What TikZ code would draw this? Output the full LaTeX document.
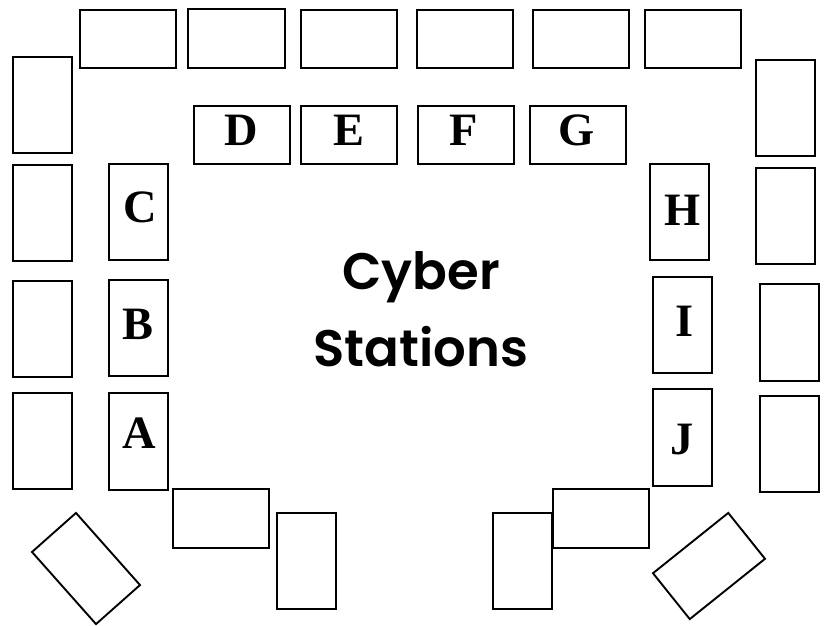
\documentclass[tikz,border=0pt]{standalone}
\usepackage{fontspec}
\setmainfont{Liberation Serif}
\newfontfamily\cyberfont{Poppins SemiBold}
\tikzset{
	wide/.style={draw, line width=1.35pt, inner sep=0pt, outer sep=0pt, minimum width=2.41cm, minimum height=1.47cm},
	tall/.style={draw, line width=1.35pt, inner sep=0pt, outer sep=0pt, minimum width=1.47cm, minimum height=2.41cm},
	letter/.style={font=\fontsize{33}{33}\selectfont\bfseries, inner sep=0pt}
}

\begin{document}
\begin{tikzpicture}[x=0.025cm, y=-0.025cm]
	\useasboundingbox (0,0) rectangle (828,625);

	% Back row
	\node[wide] (back1) at (128,39) {};
	\node[wide] (back2) at (236.5,38.5) {};
	\node[wide] (back3) at (349,39) {};
	\node[wide] (back4) at (465,39) {};
	\node[wide] (back5) at (581,39) {};
	\node[wide] (back6) at (693,39) {};

	% Left wall
	\node[tall] (left1) at (42.5,105) {};
	\node[tall] (left2) at (42.5,213) {};
	\node[tall] (left3) at (42.5,329) {};
	\node[tall] (left4) at (42.5,441) {};

	% Right wall
	\node[tall] (right1) at (785.5,108) {};
	\node[tall] (right2) at (785.5,216) {};
	\node[tall] (right3) at (789.5,332.5) {};
	\node[tall] (right4) at (789.5,444) {};

	% Cyber stations
	\node[wide] (boxD) at (242,135) {};
	\node[wide] (boxE) at (349,135) {};
	\node[wide] (boxF) at (466,135) {};
	\node[wide] (boxG) at (578,135) {};
	\node[tall] (boxC) at (138.5,212) {};
	\node[tall] (boxB) at (138.5,328) {};
	\node[tall] (boxA) at (138.5,441.5) {};
	\node[tall] (boxH) at (679.5,212) {};
	\node[tall] (boxI) at (682.5,325) {};
	\node[tall] (boxJ) at (682.5,437.5) {};

	% Bottom desks
	\node[wide] (low1) at (221,518.5) {};
	\node[tall] (low2) at (306.5,561) {};
	\node[tall] (low3) at (522.5,561) {};
	\node[wide] (low4) at (601,518.5) {};
	\node[wide, rotate=-48.4] (angleL) at (86,568.5) {};
	\node[wide, rotate=38.7] (angleR) at (709,566) {};

	% Letters
	\node[letter] (labelD) at (241.5,130.5) {D};
	\node[letter] (labelE) at (349,130.5) {E};
	\node[letter] (labelF) at (464,130.5) {F};
	\node[letter] (labelG) at (577,130.5) {G};
	\node[letter] (labelC) at (140,207) {C};
	\node[letter] (labelB) at (138,324) {B};
	\node[letter] (labelA) at (139,433) {A};
	\node[letter] (labelH) at (683,210) {H};
	\node[letter] (labelI) at (685,321) {I};
	\node[letter] (labelJ) at (682,440) {J};

	% Title
	\node[align=center, inner sep=0pt, font=\cyberfont\fontsize{36.5}{54.8}\selectfont] (title) at (421,309) {Cyber\\Stations};
\end{tikzpicture}
\end{document}
